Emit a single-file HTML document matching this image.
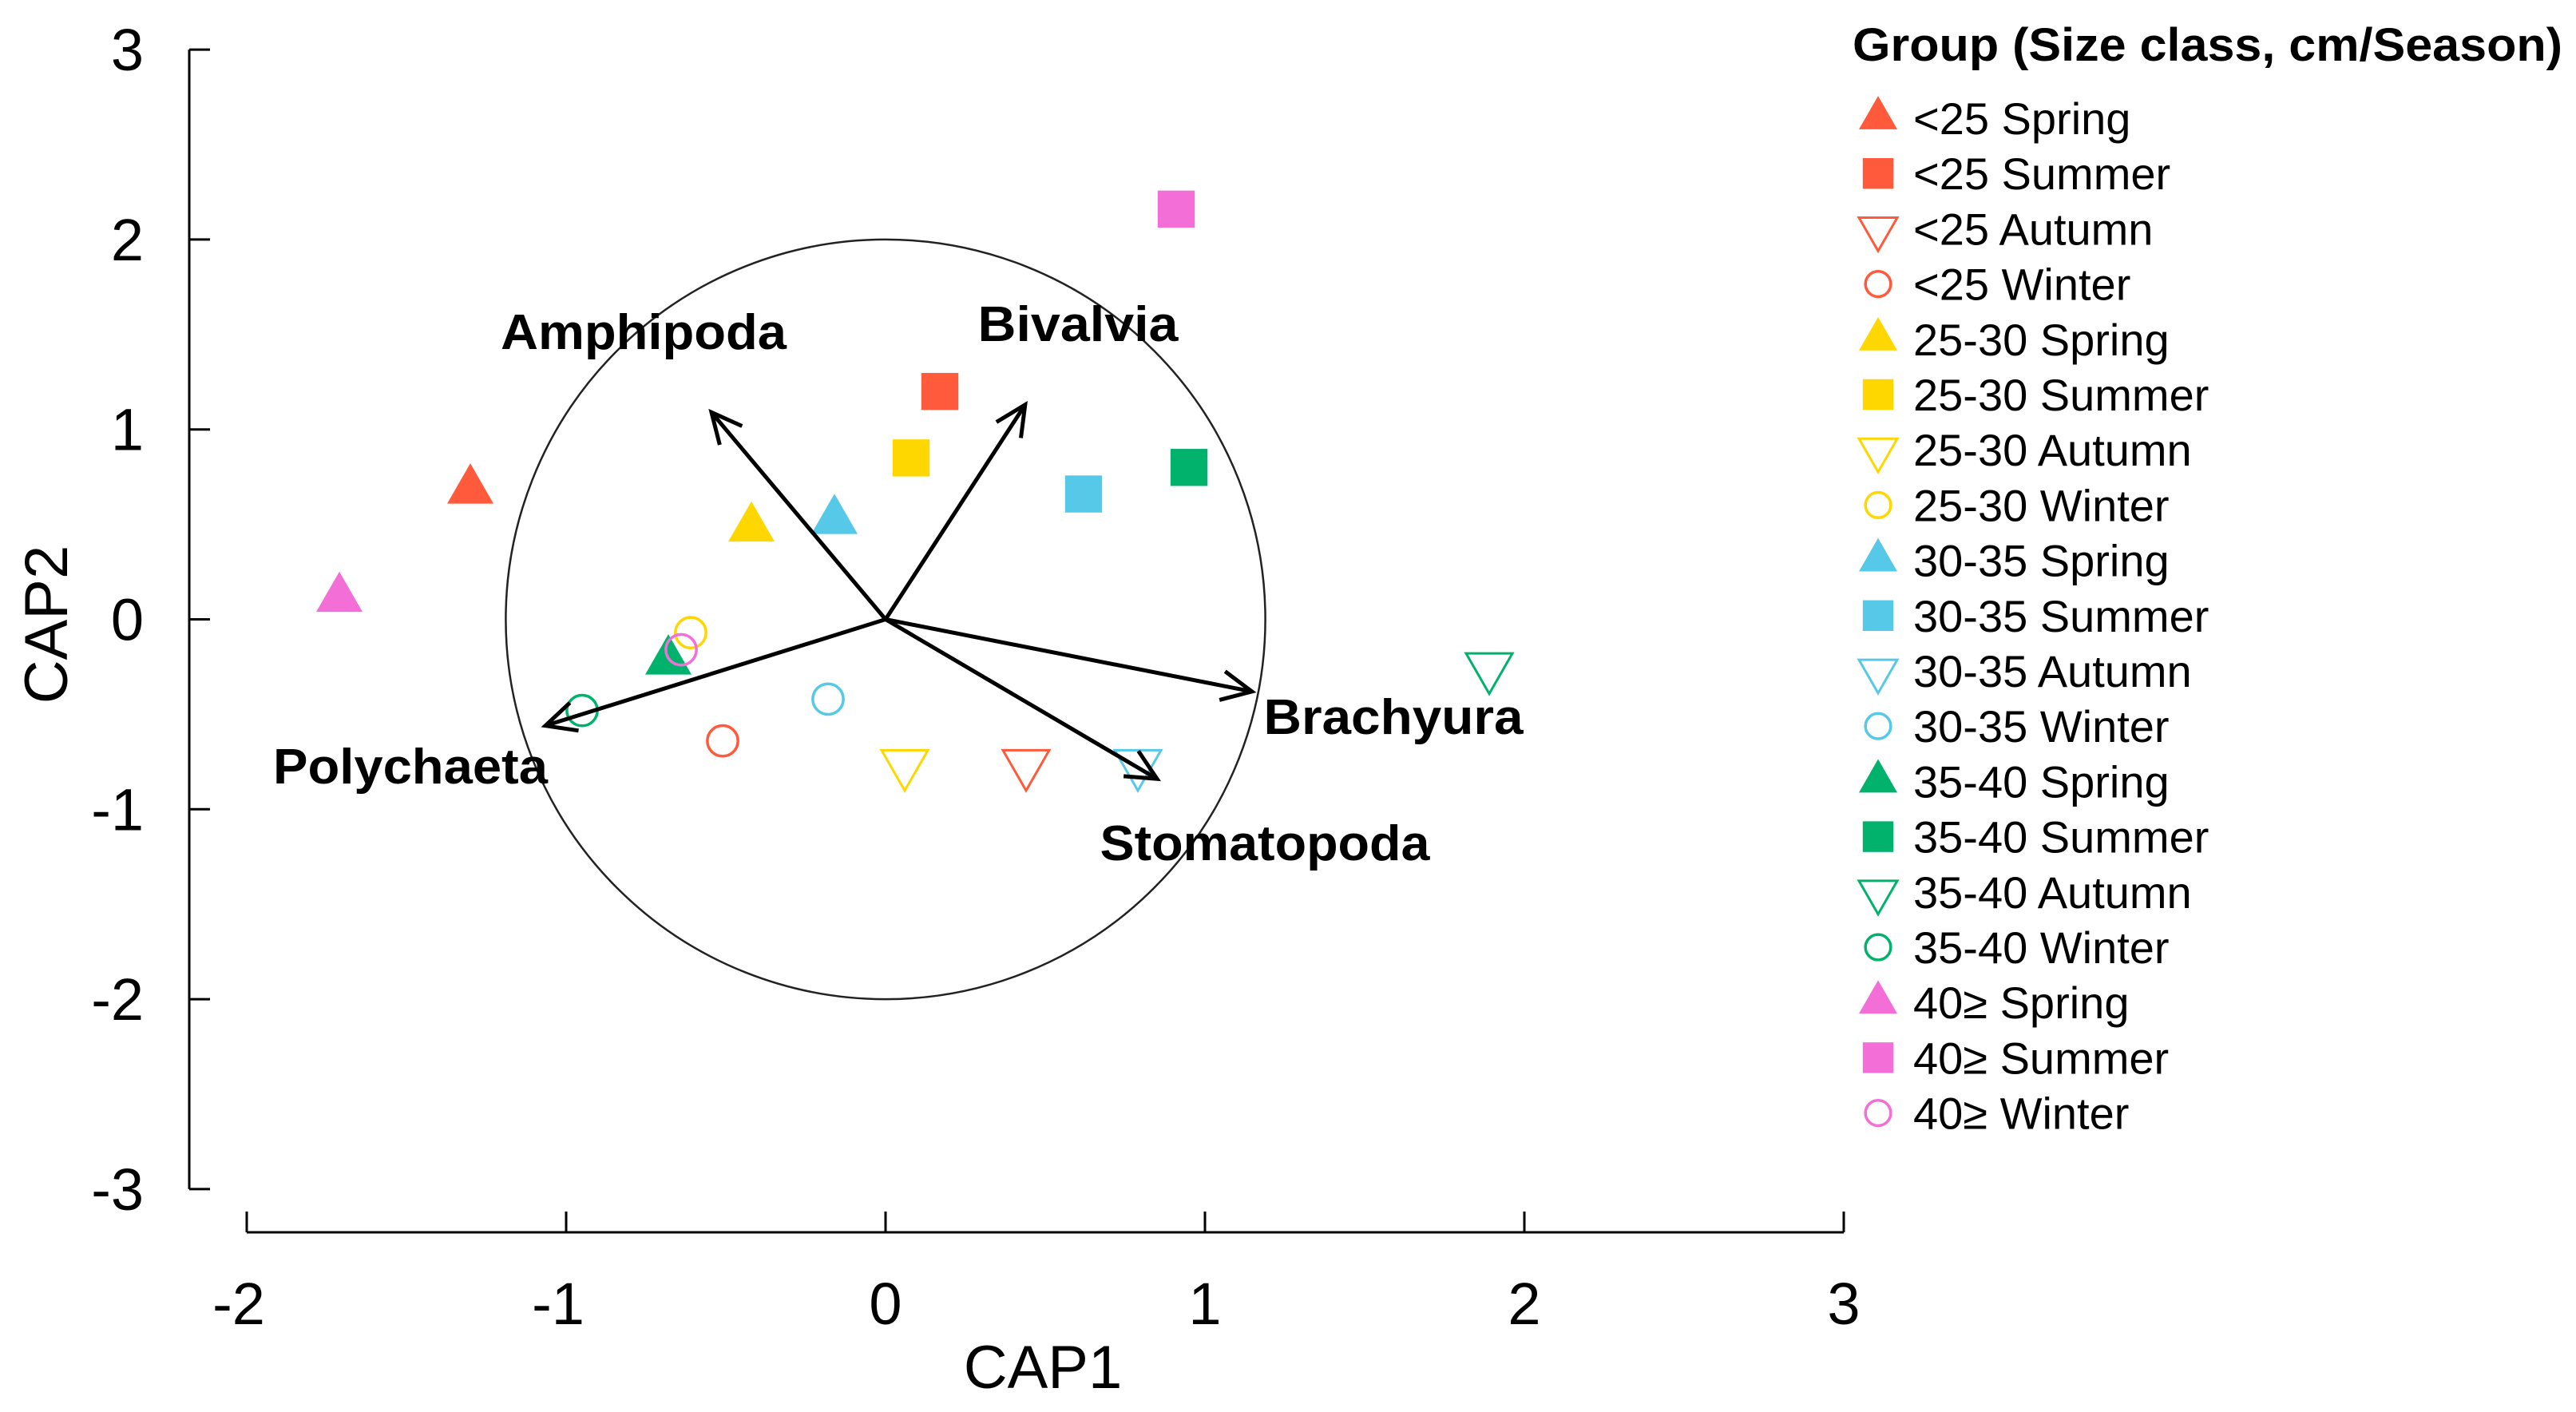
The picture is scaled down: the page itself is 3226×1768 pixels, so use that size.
<!DOCTYPE html>
<html><head><meta charset="utf-8"><style>
html,body{margin:0;padding:0;background:#fff;}
svg{display:block;}
text{font-family:"Liberation Sans",Arial,sans-serif;}
</style></head><body>
<svg id="chart" width="3226" height="1768" viewBox="0 0 3226 1768" xmlns="http://www.w3.org/2000/svg">
</svg>
<script>
const xTicks = [-2,-1,0,1,2,3];
const yTicks = [3,2,1,0,-1,-2,-3];
const groups = ["<25","<25","<25","<25","25-30","25-30","25-30","25-30","30-35","30-35","30-35","30-35","35-40","35-40","35-40","35-40","40≥","40≥","40≥"];
const seasons = ["Spring","Summer","Autumn","Winter","Spring","Summer","Autumn","Winter","Spring","Summer","Autumn","Winter","Spring","Summer","Autumn","Winter","Spring","Summer","Winter"];
const cap1 = [-1.30,0.17,0.44,-0.51,-0.42,0.08,0.06,-0.61,-0.16,0.62,0.79,-0.18,-0.68,0.95,1.89,-0.95,-1.71,0.91,-0.64];
const cap2 = [0.68,1.20,-0.76,-0.64,0.48,0.85,-0.76,-0.07,0.52,0.66,-0.76,-0.42,-0.22,0.80,-0.25,-0.48,0.11,2.16,-0.16];
const vecNames = ["Amphipoda","Bivalvia","Brachyura","Stomatopoda","Polychaeta"];
const vecX = [-0.545,0.437,1.147,0.85,-1.065];
const vecY = [1.09,1.13,-0.38,-0.84,-0.56];
const circleRadius = 2;

const colors = {"<25":"#FF5A3C","25-30":"#FFD700","30-35":"#56C8E8","35-40":"#00B26B","40≥":"#F46ED8"};
const X0=1109, XU=400, Y0=775.5, YU=237.8;
const sx = v => X0 + v*XU;
const sy = v => Y0 - v*YU;
const NS="http://www.w3.org/2000/svg";
const svg=document.getElementById('chart');
function mk(tag,attrs,parent){const e=document.createElementNS(NS,tag);for(const k in attrs)e.setAttribute(k,attrs[k]);(parent||svg).appendChild(e);return e;}

// y axis
const yAxis=mk('g',{});


mk('line',{x1:237,y1:sy(3),x2:237,y2:sy(-3),stroke:'#000','stroke-width':3},yAxis);
yTicks.forEach(t=>{
  mk('line',{x1:237,y1:sy(t),x2:263,y2:sy(t),stroke:'#000','stroke-width':3},yAxis);
  const tx=mk('text',{x:180,y:sy(t)+26,'font-size':74,'text-anchor':'end'},yAxis);
  tx.textContent=t;
  
  
});
const yt=mk('text',{x:0,y:0,'font-size':76,'text-anchor':'middle',transform:'translate(84,782) rotate(-90)'});
yt.textContent='CAP2';



// x axis
const xAxis=mk('g',{});


mk('line',{x1:sx(-2),y1:1543,x2:sx(3),y2:1543,stroke:'#000','stroke-width':3},xAxis);
xTicks.forEach(t=>{
  mk('line',{x1:sx(t),y1:1543,x2:sx(t),y2:1517,stroke:'#000','stroke-width':3},xAxis);
  const tx=mk('text',{x:sx(t)-(t<0?10:0),y:1658,'font-size':74,'text-anchor':'middle'},xAxis);
  tx.textContent=t;
  
  
});
const xt=mk('text',{x:1306,y:1738,'font-size':76,'text-anchor':'middle'});
xt.textContent='CAP1';



// correlation circle
const circ=mk('ellipse',{cx:sx(0),cy:sy(0),rx:circleRadius*YU,ry:circleRadius*YU,fill:'none',stroke:'#222','stroke-width':2.5});



// points
function marker(season,cx,cy,col,size,parent){
  const s=size;
  if(season==='Spring'){
    return mk('polygon',{points:`${cx},${cy-s*0.58} ${cx-s*0.5},${cy+s*0.29} ${cx+s*0.5},${cy+s*0.29}`,fill:col},parent);
  } else if(season==='Summer'){
    return mk('rect',{x:cx-s*0.4,y:cy-s*0.4,width:s*0.8,height:s*0.8,fill:col},parent);
  } else if(season==='Autumn'){
    return mk('polygon',{points:`${cx},${cy+s*0.58} ${cx-s*0.5},${cy-s*0.29} ${cx+s*0.5},${cy-s*0.29}`,fill:'none',stroke:col,'stroke-width':3},parent);
  } else {
    return mk('circle',{cx:cx,cy:cy,r:s*0.33,fill:'none',stroke:col,'stroke-width':3.5},parent);
  }
}
const pts=mk('g',{});


cap1.forEach((v,i)=>{
  const m=marker(seasons[i],sx(v),sy(cap2[i]),colors[groups[i]],58,pts);
  
  
});

// vectors
const labelPos=[[806,415,358],[1350,405,251],[1745,897,325],[1584,1055,413],[514,959,344]];
const vg=mk('g',{});


vecNames.forEach((n,i)=>{
  const x1=sx(0),y1=sy(0),x2=sx(vecX[i]),y2=sy(vecY[i]);
  const ln=mk('line',{x1,y1,x2,y2,stroke:'#000','stroke-width':5},vg);
  
  
  const a=Math.atan2(y2-y1,x2-x1),L=42,sp=0.45;
  mk('polyline',{points:`${x2-L*Math.cos(a-sp)},${y2-L*Math.sin(a-sp)} ${x2},${y2} ${x2-L*Math.cos(a+sp)},${y2-L*Math.sin(a+sp)}`,fill:'none',stroke:'#000','stroke-width':5},vg);
  const p=labelPos[i];
  const t=mk('text',{x:p[0],y:p[1]+22,'font-size':62,'font-weight':'bold','text-anchor':'middle',textLength:p[2],lengthAdjust:'spacingAndGlyphs'},vg);
  t.textContent=n;
  
  
});

// legend
const lg=mk('g',{});


const lt=mk('text',{x:2320,y:76,'font-size':58,'font-weight':'bold',textLength:889,lengthAdjust:'spacingAndGlyphs'},lg);
lt.textContent='Group (Size class, cm/Season)';


groups.forEach((g,i)=>{
  const y=148+i*69.2;
  const e=mk('g',{},lg);
  
  
  marker(seasons[i],2352,y,colors[g],48,e);
  const t=mk('text',{x:2396,y:y+20,'font-size':56},e);
  t.textContent=g+' '+seasons[i];
});
</script>
</body></html>
